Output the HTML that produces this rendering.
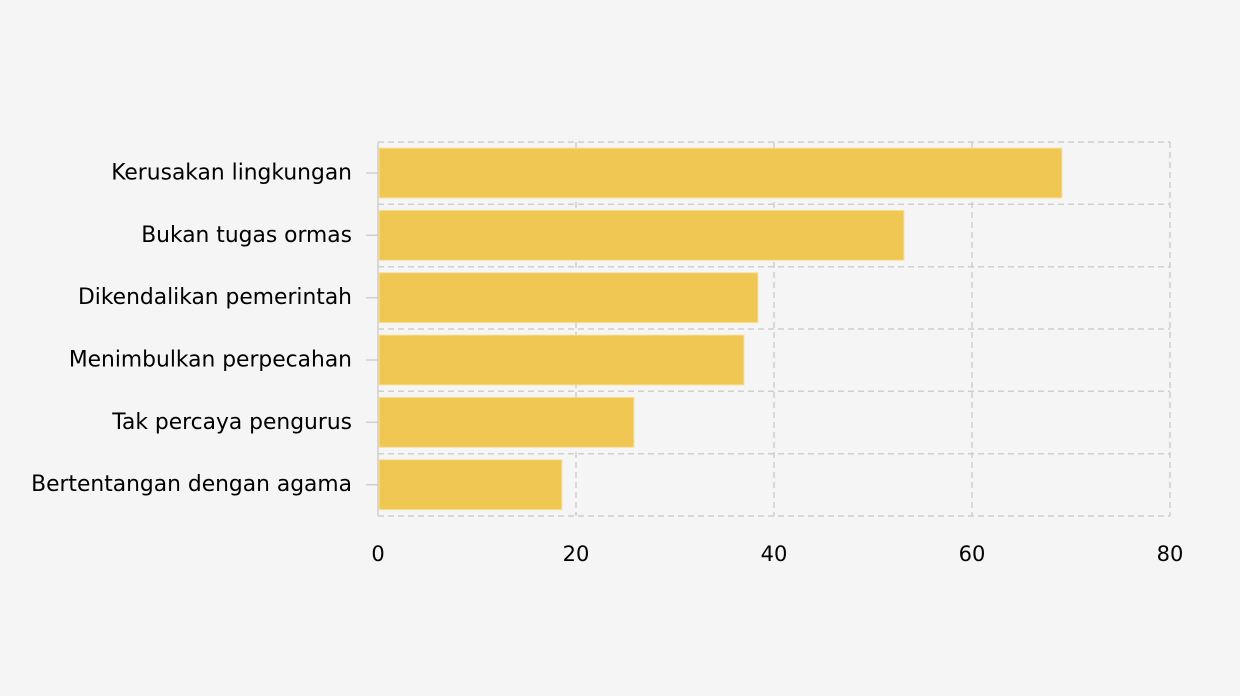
<!DOCTYPE html>
<html><head><meta charset="utf-8"><style>
body{margin:0;background:#f5f5f5;}
svg{display:block;font-family:"DejaVu Sans","Liberation Sans",sans-serif;}
</style></head><body>
<svg width="1240" height="696" viewBox="0 0 1240 696">
<rect width="1240" height="696" fill="#f5f5f5"/>
<g stroke="#cfcfcf" stroke-width="1.5" stroke-dasharray="6,4" fill="none">
<line x1="378" y1="142" x2="1170" y2="142"/>
<line x1="378" y1="204.3" x2="1170" y2="204.3"/>
<line x1="378" y1="266.7" x2="1170" y2="266.7"/>
<line x1="378" y1="329" x2="1170" y2="329"/>
<line x1="378" y1="391.3" x2="1170" y2="391.3"/>
<line x1="378" y1="453.7" x2="1170" y2="453.7"/>
<line x1="378" y1="516" x2="1170" y2="516"/>
<line x1="576" y1="142" x2="576" y2="516"/>
<line x1="774" y1="142" x2="774" y2="516"/>
<line x1="972" y1="142" x2="972" y2="516"/>
<line x1="1170" y1="142" x2="1170" y2="516"/>
</g>
<g fill="#f0c752" stroke="#f7e3a6" stroke-width="1">
<rect x="379" y="148" width="683" height="50"/>
<rect x="379" y="210.3" width="525" height="50"/>
<rect x="379" y="272.7" width="379" height="50"/>
<rect x="379" y="335" width="365" height="50"/>
<rect x="379" y="397.3" width="255" height="50"/>
<rect x="379" y="459.7" width="183" height="50"/>
</g>
<g stroke="#d0d0d0" stroke-width="1.5">
<line x1="378" y1="142" x2="378" y2="516"/>
<line x1="366" y1="173" x2="378" y2="173"/>
<line x1="366" y1="235.3" x2="378" y2="235.3"/>
<line x1="366" y1="297.7" x2="378" y2="297.7"/>
<line x1="366" y1="360" x2="378" y2="360"/>
<line x1="366" y1="422.3" x2="378" y2="422.3"/>
<line x1="366" y1="484.7" x2="378" y2="484.7"/>
</g>
<g font-size="21.8" fill="#000" text-anchor="end" dominant-baseline="central">
<text x="352" y="173">Kerusakan lingkungan</text>
<text x="352" y="235.3">Bukan tugas ormas</text>
<text x="352" y="297.7">Dikendalikan pemerintah</text>
<text x="352" y="360">Menimbulkan perpecahan</text>
<text x="352" y="422.3">Tak percaya pengurus</text>
<text x="352" y="484.7">Bertentangan dengan agama</text>
</g>
<g font-size="21" fill="#000" text-anchor="middle">
<text x="378" y="561">0</text>
<text x="576" y="561">20</text>
<text x="774" y="561">40</text>
<text x="972" y="561">60</text>
<text x="1170" y="561">80</text>
</g>
</svg>
</body></html>
